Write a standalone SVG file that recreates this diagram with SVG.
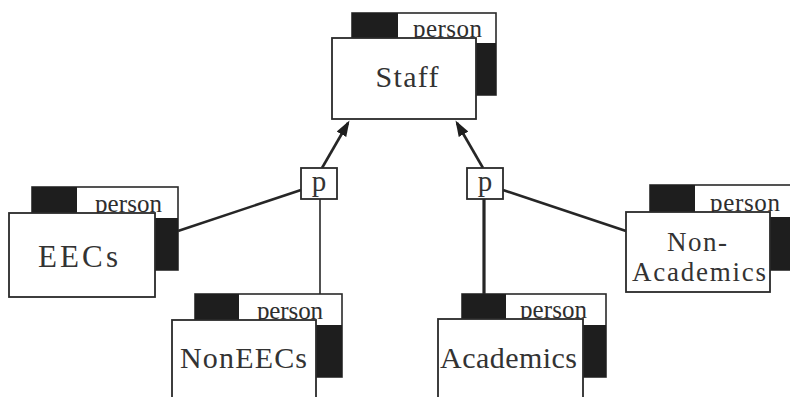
<svg xmlns="http://www.w3.org/2000/svg" width="790" height="397" viewBox="0 0 790 397">
  <style>
    .back { fill: #fff; stroke: #2a2a2a; stroke-width: 1.6; }
    .dark { fill: #1e1e1e; }
    .front { fill: #fff; stroke: #2a2a2a; stroke-width: 1.8; }
    .tag { font-family: "Liberation Serif", "Times New Roman", serif; font-size: 25px; fill: #2e2e2e; }
    .label { font-family: "Liberation Serif", "Times New Roman", serif; font-size: 30px; fill: #333; text-anchor: middle; }
    .label.two { font-size: 27px; }
    .pbox { fill: #fff; stroke: #2a2a2a; stroke-width: 1.8; }
    .ptext { font-family: "Liberation Serif", "Times New Roman", serif; font-size: 29px; fill: #333; text-anchor: middle; }
    .conn { stroke: #262626; stroke-width: 2.6; fill: none; }
    .thin { stroke-width: 1.6; }
    .thick { stroke-width: 3.2; }
  </style>
  <defs>
    <marker id="arrow" viewBox="0 0 16 12" markerWidth="16" markerHeight="12" refX="13" refY="6" orient="auto" markerUnits="userSpaceOnUse">
      <path d="M0,0.5 L16,6 L0,11.5 z" fill="#1e1e1e"/>
    </marker>
  </defs>
  <rect width="790" height="397" fill="#fff"/>

  <g id="connectors">
    <line class="conn" x1="322" y1="168" x2="348" y2="123" marker-end="url(#arrow)"/>
    <line class="conn" x1="483" y1="168" x2="457" y2="123" marker-end="url(#arrow)"/>
    <line class="conn" x1="178" y1="231" x2="301" y2="190"/>
    <line class="conn thin" x1="320" y1="199" x2="320" y2="295"/>
    <line class="conn thick" x1="484" y1="199" x2="484" y2="300"/>
    <line class="conn" x1="503" y1="190" x2="626" y2="231"/>
  </g>

  <!-- Staff -->
  <g id="staff" transform="translate(332,38)">
    <rect class="back" x="20" y="-25" width="144" height="82"/>
    <rect class="dark" x="20" y="-25" width="46" height="25"/>
    <rect class="dark" x="144" y="5" width="20" height="52"/>
    <text class="tag" x="81" y="-1" textLength="69" lengthAdjust="spacing">person</text>
    <rect class="front" x="0" y="0" width="144" height="81"/>
    <text class="label" x="75" y="49" textLength="63" lengthAdjust="spacing">Staff</text>
  </g>

  <!-- EECs -->
  <g id="eecs" transform="translate(9,213)">
    <rect class="back" x="23" y="-26" width="146" height="83"/>
    <rect class="dark" x="23" y="-26" width="45" height="26"/>
    <rect class="dark" x="146" y="5" width="23" height="52"/>
    <text class="tag" x="86" y="-1" textLength="67" lengthAdjust="spacing">person</text>
    <rect class="front" x="0" y="0" width="146" height="84"/>
    <text class="label" x="69" y="54" style="font-size:31px" textLength="80" lengthAdjust="spacing">EECs</text>
  </g>

  <!-- NonEECs -->
  <g id="noneecs" transform="translate(172,320)">
    <rect class="back" x="23" y="-26" width="147" height="83"/>
    <rect class="dark" x="23" y="-26" width="44" height="26"/>
    <rect class="dark" x="144" y="5" width="26" height="52"/>
    <text class="tag" x="85" y="-1" textLength="66" lengthAdjust="spacing">person</text>
    <rect class="front" x="0" y="0" width="144" height="82"/>
    <text class="label" x="71.5" y="48" textLength="127" lengthAdjust="spacing">NonEECs</text>
  </g>

  <!-- Academics -->
  <g id="academics" transform="translate(438,319)">
    <rect class="back" x="24" y="-25" width="144" height="83"/>
    <rect class="dark" x="24" y="-25" width="44" height="25"/>
    <rect class="dark" x="145" y="6" width="23" height="52"/>
    <text class="tag" x="82" y="-1" textLength="67" lengthAdjust="spacing">person</text>
    <rect class="front" x="0" y="0" width="145" height="82"/>
    <text class="label" x="70.5" y="49" textLength="137" lengthAdjust="spacing">Academics</text>
  </g>

  <!-- Non-Academics -->
  <g id="non-academics" transform="translate(626,212)">
    <rect class="back" x="24" y="-27" width="146" height="85"/>
    <rect class="dark" x="24" y="-27" width="45" height="27"/>
    <rect class="dark" x="144" y="5" width="26" height="53"/>
    <text class="tag" x="84" y="-1" textLength="70" lengthAdjust="spacing">person</text>
    <rect class="front" x="0" y="0" width="144" height="80"/>
    <text class="label two" x="71" y="39" textLength="60" lengthAdjust="spacing">Non-</text>
    <text class="label two" x="73" y="69" textLength="134" lengthAdjust="spacing">Academics</text>
  </g>

  <!-- partition junctions -->
  <g id="p-left">
    <rect class="pbox" x="301" y="168" width="36" height="31"/>
    <text class="ptext" x="319" y="191">p</text>
  </g>
  <g id="p-right">
    <rect class="pbox" x="467" y="168" width="36" height="31"/>
    <text class="ptext" x="485" y="191">p</text>
  </g>
</svg>
